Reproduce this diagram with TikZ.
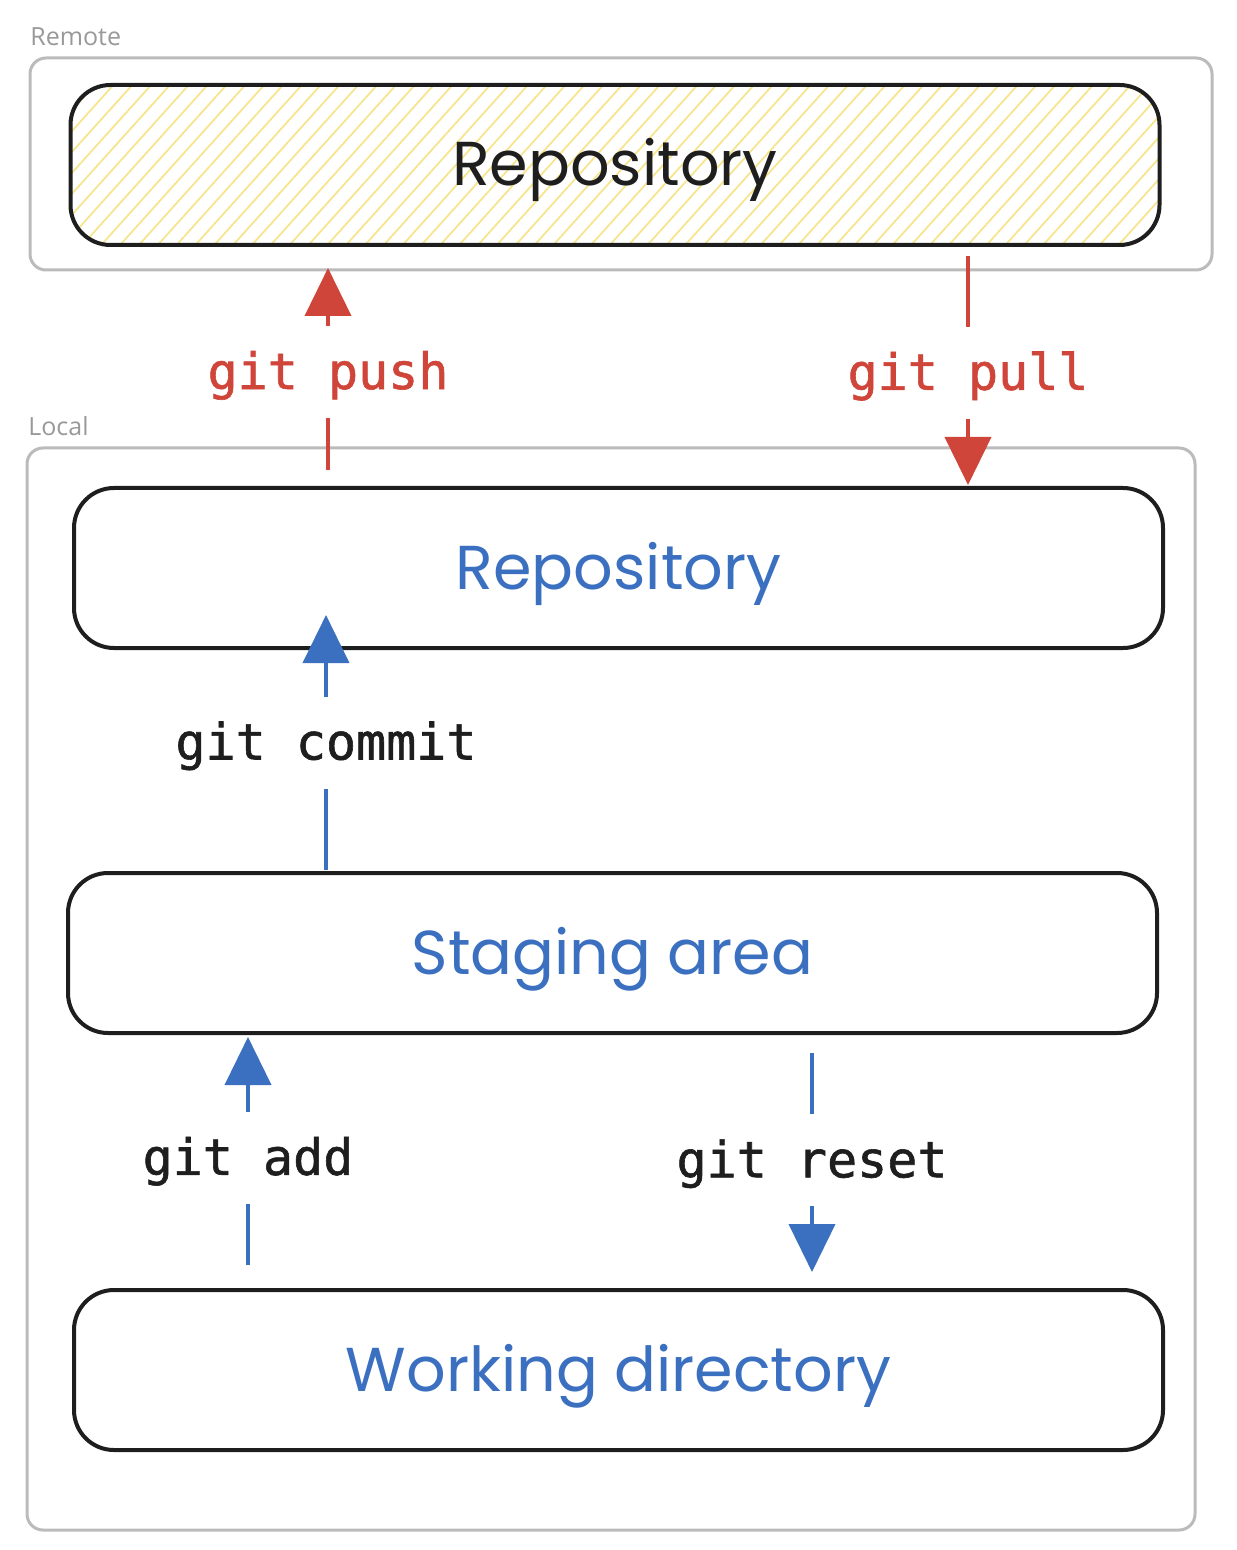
\documentclass[tikz,border=0pt]{standalone}
\usepackage{fontspec}
\setmainfont{Open Sans}
\setmonofont{DejaVu Sans Mono}
\newfontfamily\handfont{Poppins}
\newfontfamily\cmdfont[FakeBold=1.2]{DejaVu Sans Mono}
\usetikzlibrary{arrows.meta,patterns.meta}
\definecolor{boxblack}{HTML}{1E1E1E}
\definecolor{framegray}{HTML}{BBBBBB}
\definecolor{labelgray}{HTML}{999999}
\definecolor{gitred}{HTML}{D0453A}
\definecolor{gitblue}{HTML}{3B6FC0}
\definecolor{hatchyellow}{HTML}{F7E48E}
\begin{document}
\begin{tikzpicture}[x=0.5pt,y=-0.5pt,>={Triangle[length=24pt,width=23pt]},
			box node/.style={draw=boxblack,line width=2pt,rounded corners=20pt,
				minimum width=544.5pt,minimum height=80pt,text height=23pt,text depth=2pt,
				font=\handfont\fontsize{31}{36}\selectfont},
			frame/.style={draw=framegray,line width=1.5pt,rounded corners=8pt},
			frame label/.style={anchor=west,inner sep=0pt,text=labelgray,font=\fontsize{12.5}{15}\selectfont},
			cmd/.style={fill=white,inner xsep=1pt,minimum height=46pt,text height=19pt,text depth=2pt,
				font=\cmdfont\fontsize{25}{28}\selectfont},
			red arrow/.style={->,draw=gitred,line width=2pt},
			blue arrow/.style={->,draw=gitblue,line width=2pt}]
			\useasboundingbox (0,0) rectangle (1236,1550);
			
			% frames
			\draw[frame] (30,58) rectangle (1212,270);
			\draw[frame] (27,448) rectangle (1195,1530);
			\node[frame label] (remote) at (30,37) {Remote};
			\node[frame label] (local) at (28,426) {Local};
			
			% boxes
			\node[box node, pattern={Lines[angle=48,distance=7pt,line width=0.9pt]},
				pattern color=hatchyellow, text=boxblack] (rrepo) at (615,165) {Repository};
			\node[box node, text=gitblue] (lrepo) at (618.5,568) {Repository};
			\node[box node, text=gitblue] (stage) at (612.5,953) {Staging area};
			\node[box node, text=gitblue] (work) at (618.5,1370) {Working directory};
			
			% free ends
			\coordinate (push from) at (328,470);
			\coordinate (push to) at (328,268);
			\coordinate (pull from) at (968,256);
			\coordinate (pull to) at (968,485);
			\coordinate (commit from) at (326,870);
			\coordinate (commit to) at (326,615);
			\coordinate (add from) at (248,1265);
			\coordinate (add to) at (248,1037);
			\coordinate (reset from) at (812,1053);
			\coordinate (reset to) at (812,1272);
			
			\draw[red arrow] (push from) -- node[cmd, text=gitred, pos=0.485] {git push} (push to);
			\draw[red arrow] (pull from) -- node[cmd, text=gitred, pos=0.51] {git pull} (pull to);
			\draw[blue arrow] (commit from) -- node[cmd, text=boxblack, pos=0.5] {git commit} (commit to);
			\draw[blue arrow] (add from) -- node[cmd, text=boxblack, pos=0.47] {git add} (add to);
			\draw[blue arrow] (reset from) -- node[cmd, text=boxblack, pos=0.49] {git reset} (reset to);
		\end{tikzpicture}
\end{document}
